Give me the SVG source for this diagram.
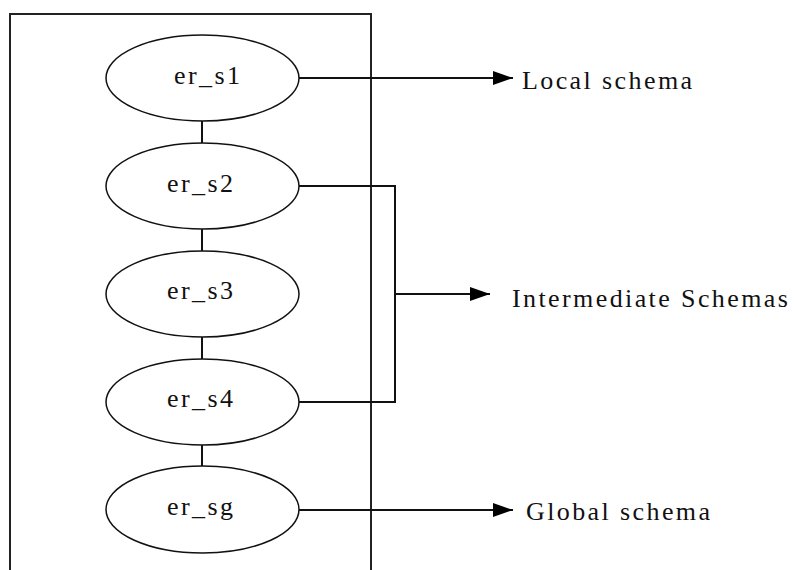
<svg xmlns="http://www.w3.org/2000/svg" width="796" height="570" viewBox="0 0 796 570">
  <style>
    .frame { fill: none; stroke: #222; stroke-width: 2; }
    .node ellipse { fill: #fff; stroke: #111; stroke-width: 1.5; }
    .lbl { font-family: "Liberation Serif", "DejaVu Serif", serif; font-size: 26px; letter-spacing: 2.4px; fill: #111; }
    .conn { fill: none; stroke: #111; stroke-width: 2; }
  </style>
  <defs>
    <marker id="arrow" viewBox="0 0 20 14" refX="20" refY="7" markerWidth="20" markerHeight="14" markerUnits="userSpaceOnUse" orient="auto">
      <path d="M0,0 L20,7 L0,14 Z" fill="#000"/>
    </marker>
  </defs>

  <!-- enclosing frame (open at the bottom) -->
  <path class="frame" d="M10,570 V14 H371 V570"/>

  <!-- links between schemas and to the labels -->
  <g id="connectors">
    <line class="conn" x1="202" y1="121" x2="202" y2="143"/>
    <line class="conn" x1="202" y1="229" x2="202" y2="251"/>
    <line class="conn" x1="202" y1="337" x2="202" y2="359"/>
    <line class="conn" x1="202" y1="445" x2="202" y2="466"/>
    <line class="conn" x1="299" y1="78" x2="513" y2="78" marker-end="url(#arrow)"/>
    <path class="conn" d="M299,186 H395 V402 H299"/>
    <line class="conn" x1="395" y1="294" x2="490" y2="294" marker-end="url(#arrow)"/>
    <line class="conn" x1="299" y1="510" x2="513" y2="510" marker-end="url(#arrow)"/>
  </g>

  <g id="er_s1" class="node">
    <ellipse cx="202.5" cy="78" rx="96.5" ry="43"/>
    <text class="lbl" x="174" y="84">er_s1</text>
  </g>
  <g id="er_s2" class="node">
    <ellipse cx="202.5" cy="186" rx="96.5" ry="43"/>
    <text class="lbl" x="167" y="192">er_s2</text>
  </g>
  <g id="er_s3" class="node">
    <ellipse cx="202.5" cy="294" rx="96.5" ry="43"/>
    <text class="lbl" x="167" y="299">er_s3</text>
  </g>
  <g id="er_s4" class="node">
    <ellipse cx="202.5" cy="402" rx="96.5" ry="43"/>
    <text class="lbl" x="167" y="407">er_s4</text>
  </g>
  <g id="er_sg" class="node">
    <ellipse cx="202.5" cy="509.5" rx="96.5" ry="43.5"/>
    <text class="lbl" x="167" y="515">er_sg</text>
  </g>

  <g id="local-schema">
    <text class="lbl" x="522" y="89">Local schema</text>
  </g>
  <g id="intermediate-schemas">
    <text class="lbl" x="512" y="307">Intermediate Schemas</text>
  </g>
  <g id="global-schema">
    <text class="lbl" x="526" y="520">Global schema</text>
  </g>
</svg>
